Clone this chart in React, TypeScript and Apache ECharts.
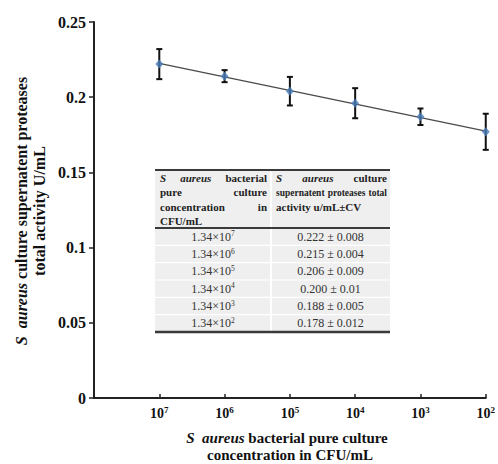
import React, { useEffect, useRef } from 'react';
import * as echarts from 'echarts';

// ---- data ----
const xPositions = [1, 2, 3, 4, 5, 6];
const exponents = [7, 6, 5, 4, 3, 2];
const activity = [0.222, 0.214, 0.204, 0.196, 0.187, 0.177];
const errors = [0.010, 0.004, 0.0095, 0.010, 0.0055, 0.012];
const trendX = [1, 6];
const trendY = [0.2225, 0.1775];

const tableExp = [7, 6, 5, 4, 3, 2];
const tableMean = ['0.222', '0.215', '0.206', '0.200', '0.188', '0.178'];
const tableCV = ['0.008', '0.004', '0.009', '0.01', '0.005', '0.012'];

type W = { t: string; it?: boolean };
const header1: W[][] = [
  [{ t: 'S', it: true }, { t: 'aureus', it: true }, { t: 'bacterial' }],
  [{ t: 'pure' }, { t: 'culture' }],
  [{ t: 'concentration' }, { t: 'in' }],
  [{ t: 'CFU/mL' }],
];
const header2: W[][] = [
  [{ t: 'S', it: true }, { t: 'aureus', it: true }, { t: 'culture' }],
  [{ t: 'supernatent' }, { t: 'proteases' }, { t: 'total' }],
  [{ t: 'activity u/mL±CV' }],
];

const SERIF = '"Liberation Serif", "Times New Roman", serif';

export default function App() {
  const ref = useRef<HTMLDivElement>(null);
  useEffect(() => {
    if (!ref.current) return;
    const chart = echarts.init(ref.current, undefined, { renderer: 'svg' });

    const cvs = document.createElement('canvas');
    const ctx = cvs.getContext('2d')!;
    const hFont = (it?: boolean) => `${it ? 'italic ' : ''}bold 11px ${SERIF}`;
    const measure = (t: string, f: string) => {
      ctx.font = f;
      return ctx.measureText(t).width;
    };

    const graphics: any[] = [];
    // table geometry
    const tL = 155, tR = 390, tT = 170, tH = 228, tB = 332, tDiv = 271;
    const rowH = (tB - tH) / 6;
    graphics.push({ type: 'rect', shape: { x: tL, y: tT, width: tR - tL, height: tB - tT }, style: { fill: '#efefef' }, z: 10 });
    graphics.push({ type: 'line', shape: { x1: tDiv, y1: tT, x2: tDiv, y2: tB }, style: { stroke: '#ffffff', lineWidth: 2 }, z: 11 });
    for (let i = 1; i < 6; i++) {
      const y = tH + rowH * i;
      graphics.push({ type: 'line', shape: { x1: tL, y1: y, x2: tR, y2: y }, style: { stroke: '#ffffff', lineWidth: 1.2 }, z: 11 });
    }
    graphics.push({ type: 'line', shape: { x1: tL, y1: tT, x2: tR, y2: tT }, style: { stroke: '#3a3a3a', lineWidth: 2 }, z: 12 });
    graphics.push({ type: 'line', shape: { x1: tL, y1: tH, x2: tR, y2: tH }, style: { stroke: '#3a3a3a', lineWidth: 2 }, z: 12 });
    graphics.push({ type: 'line', shape: { x1: tL, y1: tB, x2: tR, y2: tB }, style: { stroke: '#3a3a3a', lineWidth: 2.5 }, z: 12 });

    const headerLines = (lines: W[][], left: number, right: number) => {
      lines.forEach((words, li) => {
        const y = tT + 7.5 + li * 14.6;
        const last = li === lines.length - 1;
        const widths = words.map((w) => measure(w.t, hFont(w.it)));
        const total = widths.reduce((a, b) => a + b, 0);
        const minGap = 3;
        const avail = right - left;
        let sx = 1;
        if (total + minGap * (words.length - 1) > avail) {
          sx = (avail - minGap * (words.length - 1)) / total;
        }
        const gap = !last && words.length > 1 ? (avail - total * sx) / (words.length - 1) : 4;
        let x = left;
        words.forEach((w, wi) => {
          graphics.push({
            type: 'text', x, y, z: 13, scaleX: sx,
            style: { text: w.t, font: hFont(w.it), fill: '#222', align: 'left', verticalAlign: 'middle' },
          });
          x += widths[wi] * sx + gap;
        });
      });
    };
    headerLines(header1, tL + 5, tDiv - 4);
    headerLines(header2, tDiv + 5, tR - 3);

    tableExp.forEach((e, i) => {
      const y = tH + rowH * (i + 0.5);
      graphics.push({
        type: 'text', x: (tL + tDiv) / 2, y, z: 13,
        style: {
          text: `{b|1.34×10}{s|${e}}`, align: 'center', verticalAlign: 'middle',
          rich: {
            b: { fontFamily: SERIF, fontSize: 12, fill: '#333', lineHeight: 14 },
            s: { fontFamily: SERIF, fontSize: 7.5, fill: '#333', verticalAlign: 'top', lineHeight: 14 },
          },
        },
      });
      graphics.push({
        type: 'text', x: (tDiv + tR) / 2, y, z: 13,
        style: { text: `${tableMean[i]} ± ${tableCV[i]}`, font: `12px ${SERIF}`, fill: '#333', align: 'center', verticalAlign: 'middle' },
      });
    });

    // axis titles
    const richOf = (fs: number) => ({
      i: { fontFamily: SERIF, fontSize: fs, fontWeight: 'bold', fontStyle: 'italic', fill: '#111' },
      n: { fontFamily: SERIF, fontSize: fs, fontWeight: 'bold', fill: '#111' },
    });
    graphics.push({
      type: 'text', x: 21, y: 211, rotation: Math.PI / 2,
      style: { text: '{i|S  aureus}{n| culture supernatent proteases}', rich: richOf(16), align: 'center', verticalAlign: 'middle' },
    });
    graphics.push({
      type: 'text', x: 39, y: 211, rotation: Math.PI / 2,
      style: { text: '{n|total activity U/mL}', rich: richOf(16), align: 'center', verticalAlign: 'middle' },
    });
    graphics.push({
      type: 'text', x: 287, y: 438,
      style: { text: '{i|S  aureus}{n| bacterial pure culture}', rich: richOf(15), align: 'center', verticalAlign: 'middle' },
    });
    graphics.push({
      type: 'text', x: 290, y: 455,
      style: { text: '{n|concentration in CFU/mL}', rich: richOf(15), align: 'center', verticalAlign: 'middle' },
    });

    const option: any = {
      animation: false,
      backgroundColor: '#ffffff',
      grid: { left: 94, right: 12, top: 22, bottom: 66, containLabel: false },
      xAxis: {
        type: 'value', min: 0, max: 6, interval: 1,
        axisLine: { show: true, lineStyle: { color: '#222', width: 2 } },
        axisTick: { show: true, inside: true, length: 4, lineStyle: { color: '#222', width: 1.5 } },
        splitLine: { show: false },
        axisLabel: {
          margin: 7,
          formatter: (v: number) => {
            const idx = xPositions.indexOf(v);
            return idx >= 0 ? `{b|10}{s|${exponents[idx]}}` : '';
          },
          rich: {
            b: { fontFamily: SERIF, fontSize: 14, fontWeight: 'bold', color: '#111', lineHeight: 16 },
            s: { fontFamily: SERIF, fontSize: 9, fontWeight: 'bold', color: '#111', verticalAlign: 'top', lineHeight: 16 },
          },
        },
      },
      yAxis: {
        type: 'value', min: 0, max: 0.25, interval: 0.05,
        axisLine: { show: true, lineStyle: { color: '#222', width: 2 } },
        axisTick: { show: true, inside: false, length: 5, lineStyle: { color: '#222', width: 1.5 } },
        splitLine: { show: false },
        axisLabel: {
          margin: 8, fontFamily: SERIF, fontSize: 16, fontWeight: 'bold', color: '#111',
          formatter: (v: number) => String(Math.round(v * 100) / 100),
        },
      },
      series: [
        {
          type: 'line', data: trendX.map((x, i) => [x, trendY[i]]), symbol: 'none',
          lineStyle: { color: '#4a4a4a', width: 1.2 }, z: 2, silent: true,
        },
        {
          type: 'custom', z: 3,
          data: xPositions.map((x, i) => [x, activity[i], errors[i]]),
          renderItem: (params: any, api: any) => {
            const x = api.value(0), y = api.value(1), e = api.value(2);
            const t = api.coord([x, y + e]);
            const b = api.coord([x, y - e]);
            const cw = 3;
            const st = { stroke: '#111', lineWidth: 2 };
            return {
              type: 'group',
              children: [
                { type: 'line', shape: { x1: t[0], y1: t[1], x2: b[0], y2: b[1] }, style: st },
                { type: 'line', shape: { x1: t[0] - cw, y1: t[1], x2: t[0] + cw, y2: t[1] }, style: st },
                { type: 'line', shape: { x1: b[0] - cw, y1: b[1], x2: b[0] + cw, y2: b[1] }, style: st },
              ],
            };
          },
        },
        {
          type: 'scatter', z: 4, symbol: 'diamond', symbolSize: [8, 9],
          data: xPositions.map((x, i) => [x, activity[i]]),
          itemStyle: { color: '#4a7dba' },
        },
      ],
      graphic: { elements: graphics },
    };
    chart.setOption(option);
    return () => chart.dispose();
  }, []);
  return <div ref={ref} style={{ position: 'fixed', left: 0, top: 0, width: 498, height: 464 }} />;
}
